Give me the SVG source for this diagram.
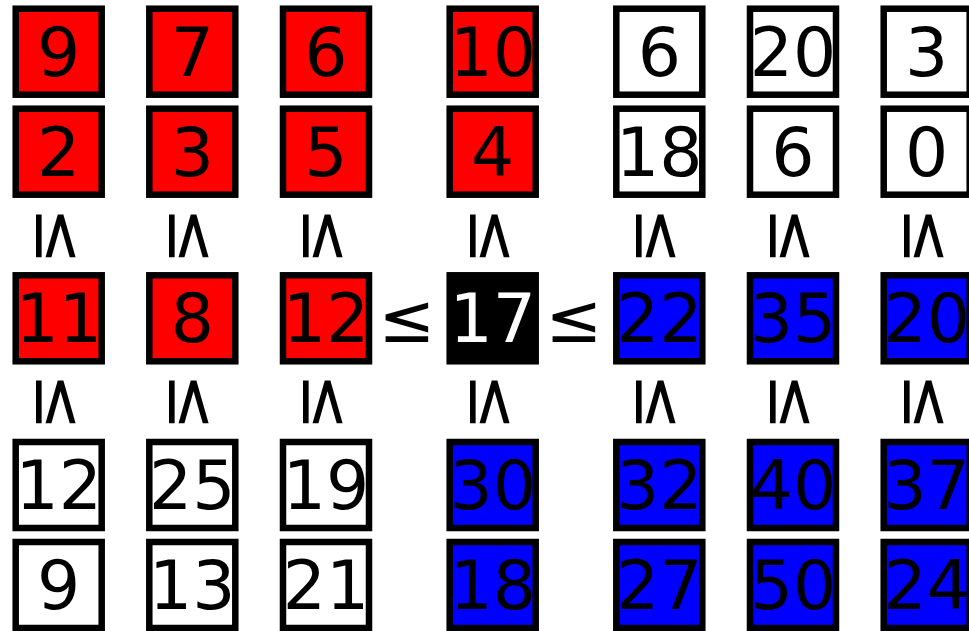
<svg xmlns="http://www.w3.org/2000/svg" width="969" height="631" viewBox="0 0 969 631">
<style>
rect{stroke:#000;stroke-width:6.5}
.r{fill:#ff0000}.b{fill:#0000ff}.w{fill:#ffffff}.k{fill:#000000}
text{font-family:"DejaVu Sans","Liberation Sans",sans-serif;font-size:68px;text-anchor:middle;fill:#000}
.wt{fill:#fff}
</style>
<g id="r1">
<g id="n1_1"><rect class="r" x="15.7" y="8.7" width="86" height="86"/><text x="58.7" y="75.7">9</text></g>
<g id="n1_2"><rect class="r" x="149.3" y="8.7" width="86" height="86"/><text x="192.3" y="75.7">7</text></g>
<g id="n1_3"><rect class="r" x="283" y="8.7" width="86" height="86"/><text x="326" y="75.7">6</text></g>
<g id="n1_4"><rect class="r" x="449.7" y="8.7" width="86" height="86"/><text x="492.7" y="75.7">10</text></g>
<g id="n1_5"><rect class="w" x="616.3" y="8.7" width="86" height="86"/><text x="659.3" y="75.7">6</text></g>
<g id="n1_6"><rect class="w" x="750" y="8.7" width="86" height="86"/><text x="793" y="75.7">20</text></g>
<g id="n1_7"><rect class="w" x="883.7" y="8.7" width="86" height="86"/><text x="926.7" y="75.7">3</text></g>
</g>
<g id="r2">
<g id="n2_1"><rect class="r" x="15.7" y="108.7" width="86" height="86"/><text x="58.7" y="175.7">2</text></g>
<g id="n2_2"><rect class="r" x="149.3" y="108.7" width="86" height="86"/><text x="192.3" y="175.7">3</text></g>
<g id="n2_3"><rect class="r" x="283" y="108.7" width="86" height="86"/><text x="326" y="175.7">5</text></g>
<g id="n2_4"><rect class="r" x="449.7" y="108.7" width="86" height="86"/><text x="492.7" y="175.7">4</text></g>
<g id="n2_5"><rect class="w" x="616.3" y="108.7" width="86" height="86"/><text x="659.3" y="175.7">18</text></g>
<g id="n2_6"><rect class="w" x="750" y="108.7" width="86" height="86"/><text x="793" y="175.7">6</text></g>
<g id="n2_7"><rect class="w" x="883.7" y="108.7" width="86" height="86"/><text x="926.7" y="175.7">0</text></g>
</g>
<g id="r3">
<g id="n3_1"><rect class="r" x="15.7" y="275.3" width="86" height="86"/><text x="58.7" y="342.3">11</text></g>
<g id="n3_2"><rect class="r" x="149.3" y="275.3" width="86" height="86"/><text x="192.3" y="342.3">8</text></g>
<g id="n3_3"><rect class="r" x="283" y="275.3" width="86" height="86"/><text x="326" y="342.3">12</text></g>
<g id="n3_4"><rect class="k" x="449.7" y="275.3" width="86" height="86"/><text class="wt" x="492.7" y="342.3">17</text></g>
<g id="n3_5"><rect class="b" x="616.3" y="275.3" width="86" height="86"/><text x="659.3" y="342.3">22</text></g>
<g id="n3_6"><rect class="b" x="750" y="275.3" width="86" height="86"/><text x="793" y="342.3">35</text></g>
<g id="n3_7"><rect class="b" x="883.7" y="275.3" width="86" height="86"/><text x="926.7" y="342.3">20</text></g>
</g>
<g id="r4">
<g id="n4_1"><rect class="w" x="15.7" y="442" width="86" height="86"/><text x="58.7" y="509">12</text></g>
<g id="n4_2"><rect class="w" x="149.3" y="442" width="86" height="86"/><text x="192.3" y="509">25</text></g>
<g id="n4_3"><rect class="w" x="283" y="442" width="86" height="86"/><text x="326" y="509">19</text></g>
<g id="n4_4"><rect class="b" x="449.7" y="442" width="86" height="86"/><text x="492.7" y="509">30</text></g>
<g id="n4_5"><rect class="b" x="616.3" y="442" width="86" height="86"/><text x="659.3" y="509">32</text></g>
<g id="n4_6"><rect class="b" x="750" y="442" width="86" height="86"/><text x="793" y="509">40</text></g>
<g id="n4_7"><rect class="b" x="883.7" y="442" width="86" height="86"/><text x="926.7" y="509">37</text></g>
</g>
<g id="r5">
<g id="n5_1"><rect class="w" x="15.7" y="542" width="86" height="86"/><text x="58.7" y="609">9</text></g>
<g id="n5_2"><rect class="w" x="149.3" y="542" width="86" height="86"/><text x="192.3" y="609">13</text></g>
<g id="n5_3"><rect class="w" x="283" y="542" width="86" height="86"/><text x="326" y="609">21</text></g>
<g id="n5_4"><rect class="b" x="449.7" y="542" width="86" height="86"/><text x="492.7" y="609">18</text></g>
<g id="n5_5"><rect class="b" x="616.3" y="542" width="86" height="86"/><text x="659.3" y="609">27</text></g>
<g id="n5_6"><rect class="b" x="750" y="542" width="86" height="86"/><text x="793" y="609">50</text></g>
<g id="n5_7"><rect class="b" x="883.7" y="542" width="86" height="86"/><text x="926.7" y="609">24</text></g>
</g>
<g id="relations">
<text x="407" y="342.3">≤</text>
<text x="574" y="342.3">≤</text>
<text x="58.7" y="259" transform="rotate(90 58.7 236)">≤</text>
<text x="192.3" y="259" transform="rotate(90 192.3 236)">≤</text>
<text x="326" y="259" transform="rotate(90 326 236)">≤</text>
<text x="492.7" y="259" transform="rotate(90 492.7 236)">≤</text>
<text x="659.3" y="259" transform="rotate(90 659.3 236)">≤</text>
<text x="793" y="259" transform="rotate(90 793 236)">≤</text>
<text x="926.7" y="259" transform="rotate(90 926.7 236)">≤</text>
<text x="58.7" y="425" transform="rotate(90 58.7 402)">≤</text>
<text x="192.3" y="425" transform="rotate(90 192.3 402)">≤</text>
<text x="326" y="425" transform="rotate(90 326 402)">≤</text>
<text x="492.7" y="425" transform="rotate(90 492.7 402)">≤</text>
<text x="659.3" y="425" transform="rotate(90 659.3 402)">≤</text>
<text x="793" y="425" transform="rotate(90 793 402)">≤</text>
<text x="926.7" y="425" transform="rotate(90 926.7 402)">≤</text>
</g>
</svg>
